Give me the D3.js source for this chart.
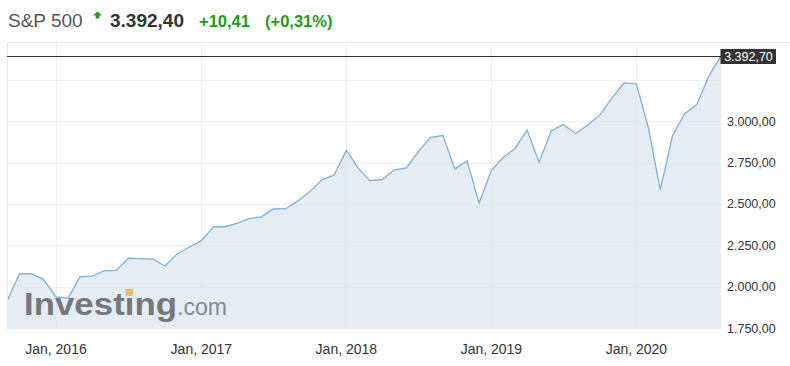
<!DOCTYPE html>
<html>
<head>
<meta charset="utf-8">
<script src="https://cdn.jsdelivr.net/npm/d3@7"></script>
<style>
  body { margin: 0; background: #fff; }
  svg text { font-family: "Liberation Sans", Arial, sans-serif; }
</style>
</head>
<body>
<svg id="chart" width="790" height="366"></svg>
<script>
// monthly closes, Sep 2015 .. Aug 2020
let months = [
  "2015-09","2015-10","2015-11","2015-12",
  "2016-01","2016-02","2016-03","2016-04","2016-05","2016-06","2016-07","2016-08","2016-09","2016-10","2016-11","2016-12",
  "2017-01","2017-02","2017-03","2017-04","2017-05","2017-06","2017-07","2017-08","2017-09","2017-10","2017-11","2017-12",
  "2018-01","2018-02","2018-03","2018-04","2018-05","2018-06","2018-07","2018-08","2018-09","2018-10","2018-11","2018-12",
  "2019-01","2019-02","2019-03","2019-04","2019-05","2019-06","2019-07","2019-08","2019-09","2019-10","2019-11","2019-12",
  "2020-01","2020-02","2020-03","2020-04","2020-05","2020-06","2020-07","2020-08"
];
let closes = [
  1920, 2079, 2080, 2044,
  1940, 1932, 2060, 2065, 2097, 2099, 2174, 2171, 2168, 2126, 2199, 2239,
  2279, 2364, 2363, 2384, 2412, 2423, 2470, 2472, 2519, 2575, 2648, 2674,
  2824, 2714, 2641, 2648, 2705, 2718, 2816, 2902, 2914, 2712, 2760, 2507,
  2704, 2784, 2834, 2946, 2752, 2942, 2980, 2926, 2977, 3038, 3141, 3231,
  3226, 2954, 2585, 2912, 3044, 3100, 3271, 3392.7
];
let yTicks = [1750, 2000, 2250, 2500, 2750, 3000, 3250];
let yLabelTicks = [1750, 2000, 2250, 2500, 2750, 3000];
let lastValue = 3392.70;

let hdrName = "S&P 500";
let hdrPrice = "3.392,40";
let hdrChg = "+10,41";
let hdrPct = "(+0,31%)";

let parseM = d3.timeParse("%Y-%m");
let series = months.map((m, i) => ({ date: parseM(m), val: closes[i] }));

let loc = d3.formatLocale({ decimal: ",", thousands: ".", grouping: [3], currency: ["", ""] });
let fmt = loc.format(",.2f");

let plotL = 7, plotR = 721, plotT = 43, plotB = 328.3;

let x = d3.scaleTime()
  .domain([series[0].date, series[series.length - 1].date])
  .range([7.5, 721]);
let y = d3.scaleLinear()
  .domain([1750, 3472])
  .range([plotB, plotT]);

let svg = d3.select("#chart");

// header
let hdr = svg.append("g");
hdr.append("text").attr("x", 8).attr("y", 27).attr("font-size", 19).attr("fill", "#555").text(hdrName);
hdr.append("path")
  .attr("d", "M97.5,11.5 L102,15.5 L99.3,15.5 L99.3,18.5 L95.7,18.5 L95.7,15.5 L93,15.5 Z")
  .attr("fill", "#1a9e1a");
hdr.append("text").attr("x", 110).attr("y", 27).attr("font-size", 19).attr("font-weight", "bold").attr("fill", "#333").text(hdrPrice);
hdr.append("text").attr("x", 199).attr("y", 27).attr("font-size", 16.5).attr("font-weight", "bold").attr("fill", "#1a9e1a").text(hdrChg);
hdr.append("text").attr("x", 265).attr("y", 27).attr("font-size", 16.5).attr("font-weight", "bold").attr("fill", "#1a9e1a").text(hdrPct);

// grid
let grid = svg.append("g");
grid.selectAll("line.h").data(yTicks).enter().append("line")
  .attr("x1", plotL).attr("x2", plotR)
  .attr("y1", d => Math.round(y(d)) + 0.5).attr("y2", d => Math.round(y(d)) + 0.5)
  .attr("stroke", "#eef0f4").attr("stroke-width", 1);
let xTicks = x.ticks(d3.timeYear.every(1));
grid.selectAll("line.v").data(xTicks).enter().append("line")
  .attr("x1", d => Math.round(x(d)) + 0.5).attr("x2", d => Math.round(x(d)) + 0.5)
  .attr("y1", plotT).attr("y2", plotB)
  .attr("stroke", "#eef0f4").attr("stroke-width", 1);

// area + line
let area = d3.area().x(d => x(d.date)).y0(plotB).y1(d => y(d.val));
let line = d3.line().x(d => x(d.date)).y(d => y(d.val));

svg.append("path").datum(series)
  .attr("d", area)
  .attr("fill", "#d9e6ef").attr("fill-opacity", 0.72);

// watermark
let wm = svg.append("g");
wm.append("text").attr("x", 24).attr("y", 315).attr("font-size", 32).attr("font-weight", "bold")
  .attr("textLength", 153).attr("lengthAdjust", "spacingAndGlyphs")
  .attr("fill", "#74787d").text("Investing");
wm.append("text").attr("x", 177).attr("y", 315).attr("font-size", 24)
  .attr("textLength", 50).attr("lengthAdjust", "spacingAndGlyphs")
  .attr("fill", "#85888d").text(".com");
wm.append("rect").attr("x", 125.5).attr("y", 289).attr("width", 7.5).attr("height", 6.5)
  .attr("fill", "#eab965");

svg.append("path").datum(series)
  .attr("d", line)
  .attr("fill", "none").attr("stroke", "#7eaedb").attr("stroke-width", 1.3);

// frame
svg.append("line").attr("x1", plotL).attr("x2", 790).attr("y1", plotT - 0.5).attr("y2", plotT - 0.5)
  .attr("stroke", "#e8e8f0");
svg.append("line").attr("x1", plotL + 0.5).attr("x2", plotL + 0.5).attr("y1", plotT).attr("y2", plotB)
  .attr("stroke", "#e8e8f0");
svg.append("line").attr("x1", plotL).attr("x2", plotR).attr("y1", plotB + 0.5).attr("y2", plotB + 0.5)
  .attr("stroke", "#e8ecf2");

// current value line + label
let yLast = Math.round(y(lastValue)) + 0.5;
svg.append("line").attr("x1", plotL).attr("x2", plotR).attr("y1", yLast).attr("y2", yLast)
  .attr("stroke", "#333").attr("stroke-width", 1.2);
svg.append("rect").attr("x", 720.5).attr("y", yLast - 7.5).attr("width", 55.5).attr("height", 15)
  .attr("fill", "#333");
svg.append("text").attr("x", 748.5).attr("y", yLast).attr("dy", "0.35em")
  .attr("text-anchor", "middle").attr("font-size", 12.5).attr("fill", "#fff")
  .text(fmt(lastValue));

// y axis labels
svg.append("g").selectAll("text").data(yLabelTicks).enter().append("text")
  .attr("x", 727).attr("y", d => y(d)).attr("dy", "0.35em")
  .attr("font-size", 12.5).attr("fill", "#333")
  .text(d => fmt(d));

// x axis labels
let fmtX = d3.timeFormat("Jan, %Y");
svg.append("g").selectAll("text").data(xTicks).enter().append("text")
  .attr("x", d => x(d)).attr("y", 354)
  .attr("text-anchor", "middle").attr("font-size", 14).attr("fill", "#333")
  .text(d => fmtX(d));
</script>
</body>
</html>
